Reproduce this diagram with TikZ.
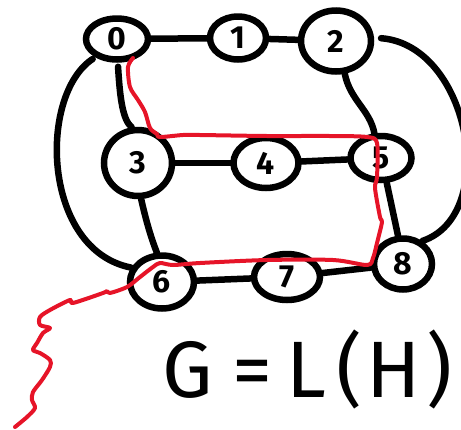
\documentclass[tikz,border=0pt]{standalone}
\usepackage{fontspec}
\setmainfont{Fira Sans}
\usetikzlibrary{shapes.geometric}
\definecolor{penred}{RGB}{230,20,40}
\begin{document}
\begin{tikzpicture}[x=1pt,y=-1pt,
  vert/.style={ellipse, draw, line width=6.5pt, inner sep=0pt,
               font=\fontsize{32}{32}\selectfont\bfseries},
  edge/.style={line width=6.5pt, line cap=round},
  redpen/.style={draw=penred, line width=4pt, line cap=round, line join=round}]
\useasboundingbox (0,0) rectangle (461,429);
\clip (0,0) rectangle (461,429);

% vertices
\node[vert, minimum width=62pt, minimum height=41pt] (n0) at (117,39)  {0};
\node[vert, minimum width=56pt, minimum height=43pt] (n1) at (238,38)  {1};
\node[vert, minimum width=70pt, minimum height=61pt] (n2) at (336,41)  {2};
\node[vert, minimum width=68pt, minimum height=66pt] (n3) at (138,163) {3};
\node[vert, minimum width=65pt, minimum height=50pt] (n4) at (266,163) {4};
\node[vert, minimum width=61pt, minimum height=44pt] (n5) at (381,158) {5};
\node[vert, minimum width=64pt, minimum height=53pt] (n6) at (162,282) {6};
\node[vert, minimum width=66pt, minimum height=46pt] (n7) at (287,277) {7};
\node[vert, minimum width=58pt, minimum height=51pt] (n8) at (403,264) {8};

% straight edges
\draw[edge] (n0) -- (n1);
\draw[edge] (n1) -- (n2);
\draw[edge] (n3) -- (n4);
\draw[edge] (n4) -- (n5);
\draw[edge] (n6) -- (n7);
\draw[edge] (n7) -- (n8);

% vertical edges
\draw[edge, shorten <=4pt] (n0.272) .. controls (120,100) and (123,120) .. (n3.100);
\draw[edge] (n3.275) .. controls (147,225) and (152,240) .. (n6.100);
\draw[edge] (n2.285) .. controls (350,100) and (370,110) .. (n5.105);
\draw[edge] (n5.283) -- (n8.100);

% outer arcs
\draw[edge, shorten <=3pt] (n0.220) .. controls (38,95) and (42,250) .. (n6.155);
\draw[edge, shorten <=7pt] (n2.5) .. controls (470,45) and (500,215) .. (n8.50);

% red trail
\draw[redpen] plot[smooth, tension=0.5] coordinates {
  (133,58) (128,67) (130,87) (138,100) (145,112) (150,128) (157,134)
  (160,137) (183,135) (200,135) (267,136) (330,136) (367,137) (377,143)
  (377,177) (375,188) (380,217) (382,222) (377,243) (373,258) (367,265)
  (333,260) (267,260) (200,263) (173,265) (160,263) (153,267) (140,277)
  (127,287) (110,293) (107,291) (103,293) (73,303) (70,300) (50,310)
  (40,317) (40,325) (50,328) (43,333) (37,343) (33,350) (40,353)
  (50,360) (50,367) (42,380) (33,392) (32,400) (35,408) (27,417) (15,427)};

% caption
\node[anchor=base west, inner sep=0pt, font=\fontsize{80}{82}\selectfont] (cap) at (162,397)
  {G\hspace{20pt}=\hspace{14pt}L\hspace{10pt}(\hspace{4pt}H\hspace{6pt})};
\end{tikzpicture}
\end{document}
